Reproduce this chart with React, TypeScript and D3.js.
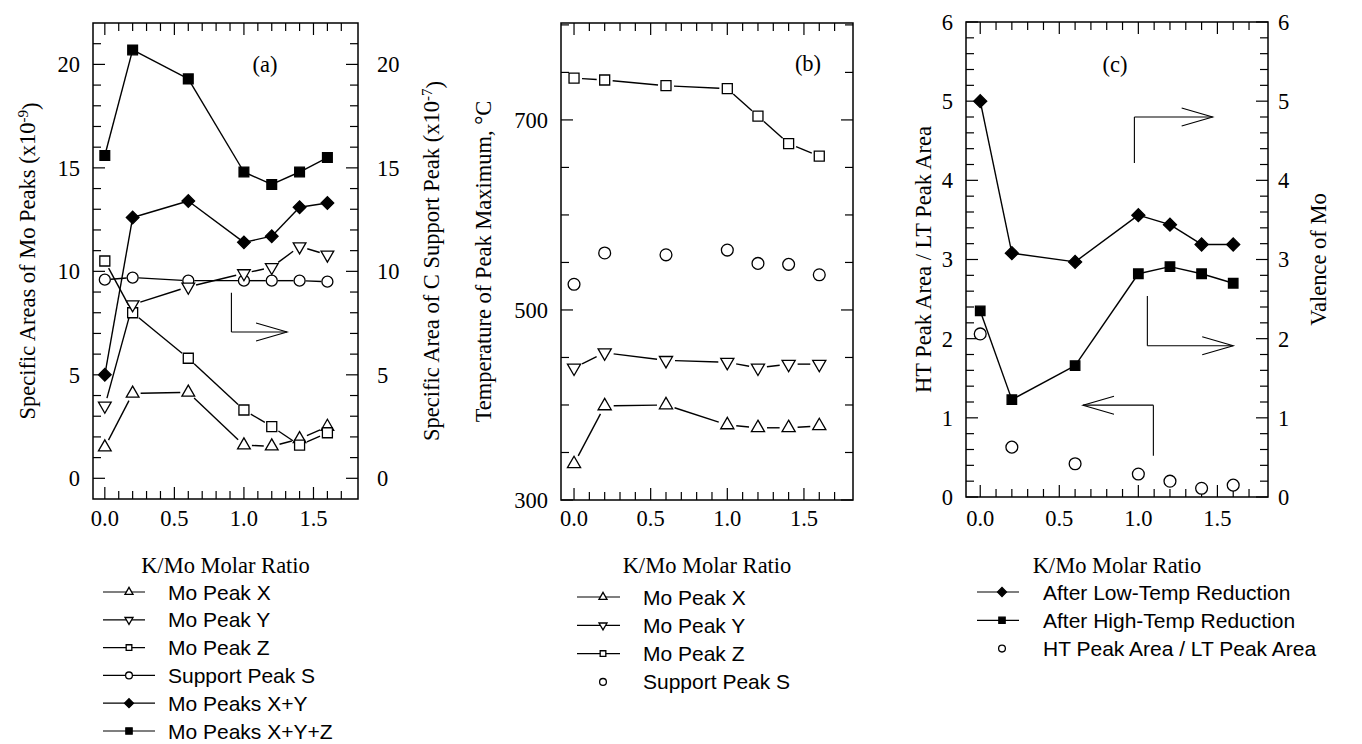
import React from 'react';
import * as d3 from 'd3';

// K/Mo molar ratio (same samples in all three panels)
const kMo = [0, 0.2, 0.6, 1.0, 1.2, 1.4, 1.6];

// panel (a) specific areas
const aPeakX = [1.5, 4.1, 4.15, 1.6, 1.55, 1.9, 2.5];
const aPeakY = [3.5, 8.4, 9.25, 9.9, 10.2, 11.2, 10.8];
const aPeakZ = [10.5, 8.0, 5.8, 3.3, 2.5, 1.6, 2.2];
const aSupportS = [9.6, 9.7, 9.55, 9.55, 9.55, 9.55, 9.5];
const aPeaksXY = [5.0, 12.6, 13.4, 11.4, 11.7, 13.1, 13.3];
const aPeaksXYZ = [15.6, 20.7, 19.3, 14.8, 14.2, 14.8, 15.5];

// panel (b) peak temperatures, °C
const bPeakX = [338, 399, 400, 379, 376, 376, 378];
const bPeakY = [439, 455, 447, 445, 439, 443, 443];
const bPeakZ = [744, 742, 736, 733, 704, 675, 662];
const bSupportS = [527, 560, 558, 563, 549, 548, 537];

// panel (c)
const cLowTemp = [5.0, 3.08, 2.97, 3.56, 3.44, 3.19, 3.19];
const cHighTemp = [2.35, 1.23, 1.66, 2.82, 2.91, 2.82, 2.70];
const cHtLtRatio = [2.06, 0.63, 0.42, 0.29, 0.2, 0.11, 0.15];

const xMajor = [0, 0.5, 1.0, 1.5];
const xMinor = d3.range(0, 18).map(i => i / 10);

const serif = '"Liberation Serif", "DejaVu Serif", serif';
const sans = '"Liberation Sans", Arial, sans-serif';
const FS = 22.5;

const symbolPath = (type, size) => {
  const map = {
    triUp: d3.symbolTriangle,
    triDown: d3.symbolTriangle,
    square: d3.symbolSquare,
    squareFilled: d3.symbolSquare,
    circle: d3.symbolCircle,
    diamondFilled: d3.symbolSquare,
  };
  return d3.symbol(map[type], size)();
};

const Marker = ({ type, x, y, size }) => {
  const filled = type === 'squareFilled' || type === 'diamondFilled';
  let rot = 0;
  if (type === 'triDown') rot = 180;
  if (type === 'diamondFilled') rot = 45;
  return (
    <path
      d={symbolPath(type, size)}
      transform={`translate(${x},${y}) rotate(${rot})`}
      fill={filled ? '#000' : '#fff'}
      stroke="#000"
      strokeWidth={1.3}
    />
  );
};

const Panel = ({ frame, xDomain, yDomain, yLabeled, yTicks, series, leftTitle, rightTitle, rightLabelX, tag, tagPos, arrows }) => {
  const x = d3.scaleLinear().domain(xDomain).range([frame.x0, frame.x1]);
  const y = d3.scaleLinear().domain(yDomain).range([frame.y1, frame.y0]);
  const cy = (frame.y0 + frame.y1) / 2;
  const cx = (frame.x0 + frame.x1) / 2;

  return (
    <g>
      <rect x={frame.x0} y={frame.y0} width={frame.x1 - frame.x0} height={frame.y1 - frame.y0} fill="none" stroke="#000" strokeWidth={1.5} />
      {/* x ticks, bottom and top, inward */}
      {xMinor.map((v, i) => {
        const major = xMajor.some(m => Math.abs(m - v) < 1e-6);
        const len = major ? 12 : 8;
        return (
          <g key={'xt' + i}>
            <line x1={x(v)} x2={x(v)} y1={frame.y1} y2={frame.y1 - len} stroke="#000" strokeWidth={1.2} />
            <line x1={x(v)} x2={x(v)} y1={frame.y0} y2={frame.y0 + len} stroke="#000" strokeWidth={1.2} />
          </g>
        );
      })}
      {xMajor.map(v => (
        <text key={'xl' + v} x={x(v)} y={526} textAnchor="middle" fontFamily={serif} fontSize={FS}>{v.toFixed(1)}</text>
      ))}
      {/* y ticks both sides */}
      {yTicks.map((v, i) => {
        const major = yLabeled.some(m => Math.abs(m - v) < 1e-6);
        const len = major ? 12 : 8;
        return (
          <g key={'yt' + i}>
            <line x1={frame.x0} x2={frame.x0 + len} y1={y(v)} y2={y(v)} stroke="#000" strokeWidth={1.2} />
            <line x1={frame.x1} x2={frame.x1 - len} y1={y(v)} y2={y(v)} stroke="#000" strokeWidth={1.2} />
          </g>
        );
      })}
      {yLabeled.map(v => (
        <text key={'yl' + v} x={frame.x0 - 13} y={y(v)} dy="0.35em" textAnchor="end" fontFamily={serif} fontSize={FS}>{String(v)}</text>
      ))}
      {rightLabelX && yLabeled.map(v => (
        <text key={'yr' + v} x={rightLabelX} y={y(v)} dy="0.35em" textAnchor="start" fontFamily={serif} fontSize={FS}>{String(v)}</text>
      ))}
      {[leftTitle, rightTitle].filter(Boolean).map((t, i) => (
        <text key={'tt' + i} transform={`translate(${t.x},${cy}) rotate(-90)`} textAnchor="middle" dy="0.35em" fontFamily={serif} fontSize={FS}>
          {t.text}
          {t.sup && <tspan dy="-0.45em" fontSize={15}>{t.sup}</tspan>}
          {t.tail && <tspan dy="0.45em">{t.tail}</tspan>}
        </text>
      ))}
      <text x={cx} y={573} textAnchor="middle" fontFamily={serif} fontSize={FS}>K/Mo Molar Ratio</text>
      <text x={tagPos[0]} y={tagPos[1]} textAnchor="middle" dy="0.35em" fontFamily={serif} fontSize={FS}>{tag}</text>

      {/* series lines (with gaps round open markers) */}
      {series.map((s, si) => s.line && (
        <g key={'ln' + si}>
          {s.values.slice(1).map((v, i) => {
            const xa = x(kMo[i]), ya = y(s.values[i]);
            const xb = x(kMo[i + 1]), yb = y(v);
            const len = Math.hypot(xb - xa, yb - ya);
            const g = s.gap || 0;
            if (len <= 2 * g) return null;
            const ux = (xb - xa) / len, uy = (yb - ya) / len;
            return <line key={i} x1={xa + ux * g} y1={ya + uy * g} x2={xb - ux * g} y2={yb - uy * g} stroke="#000" strokeWidth={1.4} />;
          })}
        </g>
      ))}
      {series.map((s, si) => (
        <g key={'mk' + si}>
          {s.values.map((v, i) => <Marker key={i} type={s.marker} x={x(kMo[i])} y={y(v)} size={s.size} />)}
        </g>
      ))}

      {/* L-shaped arrows pointing at the axis to read */}
      {arrows.map((a, i) => {
        const cxp = x(a.cornerX), cyp = y(a.cornerY);
        const sy = y(a.stemY);
        const tx = x(a.tipX);
        const dir = tx > cxp ? -1 : 1;
        return (
          <g key={'ar' + i} fill="none" stroke="#000" strokeWidth={1.1}>
            <line x1={cxp} y1={cyp} x2={cxp} y2={sy} />
            <line x1={cxp} y1={cyp} x2={tx} y2={cyp} />
            <polyline points={`${tx + dir * 31},${cyp - 9} ${tx},${cyp} ${tx + dir * 31},${cyp + 9}`} />
          </g>
        );
      })}
    </g>
  );
};

const Legend = ({ items, x0, x1, mx, tx, y0, step, size }) => (
  <g>
    {items.map((it, i) => {
      const yy = y0 + i * step;
      return (
        <g key={i}>
          {it.line && <line x1={x0} x2={it.long ? x1 + 10 : x1} y1={yy} y2={yy} stroke="#000" strokeWidth={1.2} />}
          <Marker type={it.marker} x={mx} y={yy} size={it.size || size} />
          <text x={tx} y={yy} dy="0.36em" fontFamily={sans} fontSize={21}>{it.label}</text>
        </g>
      );
    })}
  </g>
);

export default function App() {
  const xDomain = [-0.085, 1.82];
  return (
    <svg width={1362} height={744} style={{ position: 'absolute', left: 0, top: 0, background: '#fff' }}>
      <Panel
        frame={{ x0: 93, x1: 358, y0: 23, y1: 499 }}
        xDomain={xDomain}
        yDomain={[-1, 22]}
        yLabeled={[0, 5, 10, 15, 20]}
        yTicks={d3.range(0, 22)}
        rightLabelX={377}
        leftTitle={{ x: 27, text: 'Specific Areas of Mo Peaks (x10', sup: '-9', tail: ')' }}
        rightTitle={{ x: 431, text: 'Specific Area of C Support Peak (x10', sup: '-7', tail: ')' }}
        tag="(a)"
        tagPos={[265, 64]}
        series={[
          { values: aPeakX, marker: 'triUp', size: 70, line: true, gap: 8 },
          { values: aPeakZ, marker: 'square', size: 100, line: true, gap: 8 },
          { values: aSupportS, marker: 'circle', size: 95, line: true, gap: 6 },
          { values: aPeakY, marker: 'triDown', size: 70, line: true, gap: 8 },
          { values: aPeaksXY, marker: 'diamondFilled', size: 80, line: true, gap: 0 },
          { values: aPeaksXYZ, marker: 'squareFilled', size: 95, line: true, gap: 0 },
        ]}
        arrows={[{ cornerX: 0.91, cornerY: 7.07, stemY: 8.96, tipX: 1.31 }]}
      />
      <Panel
        frame={{ x0: 561, x1: 853, y0: 23, y1: 500 }}
        xDomain={xDomain}
        yDomain={[300, 802]}
        yLabeled={[300, 500, 700]}
        yTicks={d3.range(300, 801, 50)}
        leftTitle={{ x: 483, text: 'Temperature of Peak Maximum, °C' }}
        tag="(b)"
        tagPos={[808, 63]}
        series={[
          { values: bPeakX, marker: 'triUp', size: 75, line: true, gap: 9 },
          { values: bPeakY, marker: 'triDown', size: 75, line: true, gap: 9 },
          { values: bPeakZ, marker: 'square', size: 100, line: true, gap: 8 },
          { values: bSupportS, marker: 'circle', size: 110, line: false },
        ]}
        arrows={[]}
      />
      <Panel
        frame={{ x0: 966, x1: 1268, y0: 22, y1: 497 }}
        xDomain={[-0.09, 1.82]}
        yDomain={[0, 6]}
        yLabeled={[0, 1, 2, 3, 4, 5, 6]}
        yTicks={d3.range(0, 31).map(i => i / 5)}
        rightLabelX={1278}
        leftTitle={{ x: 923, text: 'HT Peak Area / LT Peak Area' }}
        rightTitle={{ x: 1318, text: 'Valence of Mo' }}
        tag="(c)"
        tagPos={[1115, 64]}
        series={[
          { values: cLowTemp, marker: 'diamondFilled', size: 85, line: true, gap: 0 },
          { values: cHighTemp, marker: 'squareFilled', size: 90, line: true, gap: 0 },
          { values: cHtLtRatio, marker: 'circle', size: 110, line: false },
        ]}
        arrows={[
          { cornerX: 0.975, cornerY: 4.8, stemY: 4.22, tipX: 1.47 },
          { cornerX: 1.057, cornerY: 1.91, stemY: 2.54, tipX: 1.6 },
          { cornerX: 1.095, cornerY: 1.16, stemY: 0.52, tipX: 0.65 },
        ]}
      />

      <Legend
        x0={103} x1={145} mx={129} tx={168} y0={592} step={27.8} size={28}
        items={[
          { label: 'Mo Peak X', marker: 'triUp', line: true },
          { label: 'Mo Peak Y', marker: 'triDown', line: true },
          { label: 'Mo Peak Z', marker: 'square', line: true, size: 32 },
          { label: 'Support Peak S', marker: 'circle', line: true, long: true, size: 36 },
          { label: 'Mo Peaks X+Y', marker: 'diamondFilled', line: true, long: true, size: 40 },
          { label: 'Mo Peaks X+Y+Z', marker: 'squareFilled', line: true, long: true, size: 40 },
        ]}
      />
      <Legend
        x0={577} x1={620} mx={603} tx={643} y0={597} step={28.3} size={28}
        items={[
          { label: 'Mo Peak X', marker: 'triUp', line: true },
          { label: 'Mo Peak Y', marker: 'triDown', line: true },
          { label: 'Mo Peak Z', marker: 'square', line: true, size: 32 },
          { label: 'Support Peak S', marker: 'circle', line: false, size: 36 },
        ]}
      />
      <Legend
        x0={977} x1={1019} mx={1002} tx={1043} y0={592} step={28.3} size={40}
        items={[
          { label: 'After Low-Temp Reduction', marker: 'diamondFilled', line: true },
          { label: 'After High-Temp Reduction', marker: 'squareFilled', line: true },
          { label: 'HT Peak Area / LT Peak Area', marker: 'circle', line: false, size: 36 },
        ]}
      />
    </svg>
  );
}
